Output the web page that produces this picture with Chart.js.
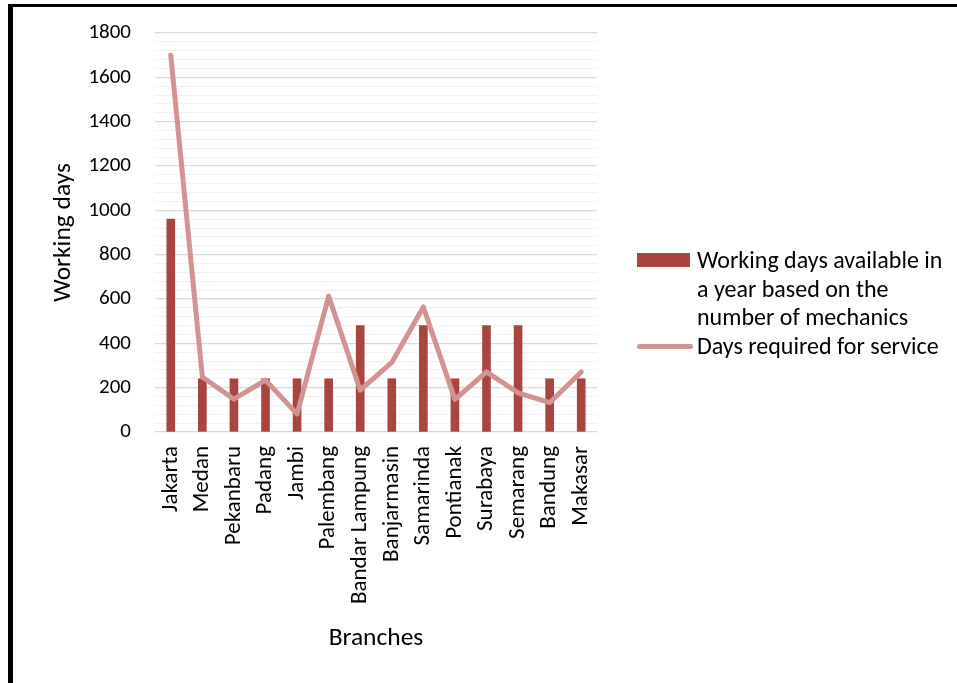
<!DOCTYPE html>
<html>
<head>
<meta charset="utf-8">
<script src="https://cdn.jsdelivr.net/npm/chart.js@4/dist/chart.umd.min.js"></script>
<style>
  html, body { margin: 0; padding: 0; background: #fff; width: 957px; height: 683px; overflow: hidden; }
  #frame { position: absolute; left: 8px; top: 4px; width: 960px; height: 700px; border-left: 5px solid #000; border-top: 3px solid #000; }
  #wrap { position: absolute; left: 0; top: 0; width: 957px; height: 683px; }
  #legend { position: absolute; left: 637px; top: 246px; font-family: Carlito, "Open Sans", sans-serif; font-size: 24px; line-height: 28.5px; color: #000; }
  .item { position: relative; padding-left: 60px; width: 252px; }
  .sw { position: absolute; left: 0; }
</style>
</head>
<body>
<div id="frame"></div>
<div id="wrap"><canvas id="c" width="957" height="683"></canvas></div>
<div id="legend"></div>
<script>
const categories = ["Jakarta","Medan","Pekanbaru","Padang","Jambi","Palembang","Bandar Lampung","Banjarmasin","Samarinda","Pontianak","Surabaya","Semarang","Bandung","Makasar"];
const availableDays = [960,240,240,240,240,240,480,240,480,240,480,480,240,240];
const requiredDays = [1700,248,148,234,81,613,189,314,564,147,271,177,132,271];
const seriesNames = ["Working days available in a year based on the number of mechanics","Days required for service"];
const yMax = 1800, yStep = 40, yLabelStep = 200;

const barColor = '#a9443f';
const lineColor = '#d39392';
const FONT = 'Carlito, "Open Sans", sans-serif';
Chart.defaults.font.family = FONT;
Chart.defaults.color = '#000';

const chart = new Chart(document.getElementById('c'), {
  data: {
    labels: categories,
    datasets: [
      { type: 'line', label: seriesNames[1], data: requiredDays, borderColor: lineColor, backgroundColor: lineColor,
        borderWidth: 5, pointRadius: 0, tension: 0, borderCapStyle: 'round', borderJoinStyle: 'round', order: 0 },
      { type: 'bar', label: seriesNames[0], data: availableDays, backgroundColor: barColor, barThickness: 8, order: 1 }
    ]
  },
  options: {
    responsive: false,
    animation: false,
    layout: { padding: { left: 42, top: 33, right: 360, bottom: 28 } },
    plugins: { legend: { display: false }, tooltip: { enabled: false } },
    scales: {
      x: {
        grid: { display: false },
        border: { display: false },
        ticks: { maxRotation: 90, minRotation: 90, padding: 6, font: { size: 23 }, autoSkip: false },
        title: { display: true, text: 'Branches', font: { size: 25.5 }, padding: { top: 0, bottom: 1 } },
        afterFit: s => { s.height = 683 - 432 - 28; }
      },
      y: {
        min: 0, max: yMax,
        border: { display: false },
        grid: {
          drawTicks: false,
          color: ctx => (ctx.tick && ctx.tick.value % yLabelStep === 0) ? '#d9d9d9' : '#f1f1f1',
          lineWidth: ctx => (ctx.tick && ctx.tick.value % yLabelStep === 0) ? 1.3 : 1
        },
        ticks: { stepSize: yStep, autoSkip: false, padding: 24, font: { size: 21 },
          callback: v => (v % yLabelStep === 0) ? String(v) : '' },
        title: { display: true, text: 'Working days', font: { size: 25.5 }, padding: { top: 6, bottom: 0 } },
        afterFit: s => { s.width = 155 - 42; s.paddingTop = 0; s.paddingBottom = 0; }
      }
    }
  }
});

// HTML legend built from the datasets
const leg = document.getElementById('legend');
const barDs = chart.data.datasets[1], lineDs = chart.data.datasets[0];
leg.innerHTML =
  '<div class="item"><span class="sw" style="top:7px;width:53px;height:14px;background:' + barDs.backgroundColor + '"></span>' + barDs.label + '</div>' +
  '<div class="item"><span class="sw" style="top:12px;width:56px;height:5px;border-radius:3px;background:' + lineDs.borderColor + '"></span>' + lineDs.label + '</div>';
</script>
</body>
</html>
